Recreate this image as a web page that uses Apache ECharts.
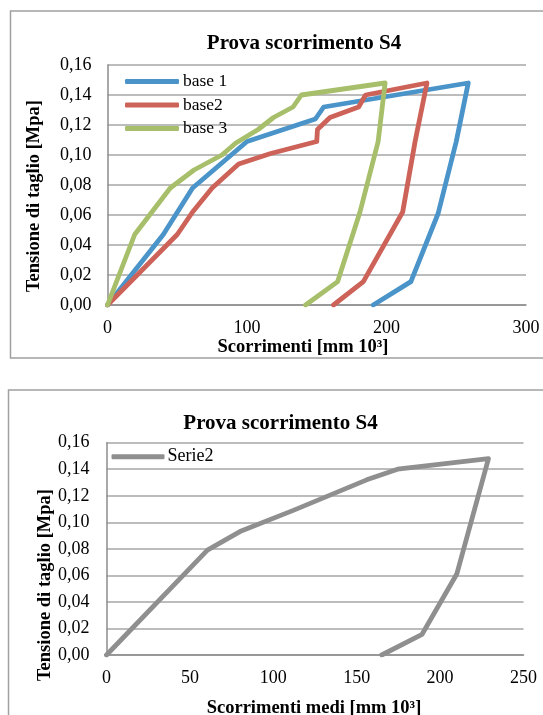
<!DOCTYPE html>
<html><head><meta charset="utf-8">
<script src="https://cdn.jsdelivr.net/npm/echarts@6/dist/echarts.min.js"></script>
<style>html,body{margin:0;padding:0;background:#fff}#c{width:543px;height:715px}</style>
</head><body><div id="c"></div>
<script>
// ---- data ----
const chartTitle = 'Prova scorrimento S4';
const yTitle = 'Tensione di taglio [Mpa]';
const xTitle1 = 'Scorrimenti [mm 10³]';
const xTitle2 = 'Scorrimenti medi [mm 10³]';
const names1 = ['base 1', 'base2', 'base 3'];
const name2 = 'Serie2';

const base1 = [[0,0],[40,0.047],[61,0.078],[100,0.109],[149,0.124],[155,0.132],[258.6,0.148],[250,0.109],[237,0.061],[217.5,0.0156],[190.5,0]];
const base2 = [[0,0],[50,0.047],[61,0.062],[75,0.078],[94,0.094],[117,0.101],[150,0.109],[150.5,0.117],[159.5,0.125],[180,0.132],[185,0.140],[229,0.148],[220.5,0.109],[211.6,0.062],[183.4,0.0156],[162,0]];
const base3 = [[0,0],[19.5,0.047],[45,0.078],[62,0.090],[82,0.100],[92,0.108],[108,0.117],[119,0.125],[133,0.132],[139,0.140],[199,0.148],[194,0.109],[181,0.062],[165,0.0156],[142,0]];
const serie2 = [[0,0],[60.5,0.079],[80,0.093],[112,0.109],[156,0.132],[174.5,0.140],[229,0.148],[210,0.061],[189.2,0.0156],[165,0]];

const xRange1 = [0, 300, 100];
const xRange2 = [0, 250, 50];
const yRange = [0, 0.16, 0.02];

// ---- styles ----
const FONT = '"Liberation Serif","Times New Roman",serif';
const colors1 = ['#4A94C9', '#CD6259', '#A7BF6A'];
const color2 = '#8F8F8F';
const gridColor = '#A6A6A6';
const axisColor = '#8C8C8C';

const chart = echarts.init(document.getElementById('c'), null, {renderer: 'canvas'});

function yAx(gridIndex, margin) {
  return {
    type: 'value', gridIndex, min: yRange[0], max: yRange[1], interval: yRange[2],
    axisLine: {show: true, lineStyle: {color: axisColor, width: 1.5}},
    axisTick: {show: false},
    splitLine: {show: true, lineStyle: {color: gridColor, width: 1.5}},
    axisLabel: {margin, color: '#000', fontFamily: FONT, fontSize: 18,
      formatter: v => v.toFixed(2).replace('.', ',')}
  };
}
function xAx(gridIndex, r) {
  return {
    type: 'value', gridIndex, min: r[0], max: r[1], interval: r[2],
    axisLine: {show: true, onZero: false, lineStyle: {color: axisColor, width: 1.5}},
    axisTick: {show: false},
    splitLine: {show: false},
    axisLabel: {margin: 14, color: '#000', fontFamily: FONT, fontSize: 18}
  };
}
function lineSeries(name, data, color, xi, yi) {
  return {
    type: 'line', name, data, xAxisIndex: xi, yAxisIndex: yi,
    symbol: 'none', smooth: false, color,
    lineStyle: {color, width: 4.8, cap: 'round', join: 'round'},
    animation: false
  };
}

const option = {
  animation: false,
  backgroundColor: '#fff',
  grid: [
    {left: 107.5, top: 65, width: 418.5, height: 240, containLabel: false},
    {left: 106.5, top: 442.7, width: 417, height: 212.3, containLabel: false}
  ],
  xAxis: [xAx(0, xRange1), xAx(1, xRange2)],
  yAxis: [yAx(0, 16), yAx(1, 17)],
  legend: [
    {data: names1, orient: 'vertical', left: 125, top: 72.5, padding: 0, itemWidth: 54, itemHeight: 5,
     itemGap: 5.5, icon: 'roundRect', textStyle: {fontFamily: FONT, fontSize: 17.5, color: '#000', lineHeight: 18, padding: [0,0,0,-1]}},
    {data: [name2], orient: 'vertical', left: 111.5, top: 447.7, padding: 0, itemWidth: 53, itemHeight: 5,
     icon: 'roundRect', textStyle: {fontFamily: FONT, fontSize: 18, color: '#000', lineHeight: 18, padding: [0,0,0,-2]}}
  ],
  series: [
    lineSeries(names1[0], base1, colors1[0], 0, 0),
    lineSeries(names1[1], base2, colors1[1], 0, 0),
    lineSeries(names1[2], base3, colors1[2], 0, 0),
    lineSeries(name2, serie2, color2, 1, 1)
  ],
  graphic: [
    {type: 'rect', z: -10, shape: {x: 10.5, y: 11, width: 560, height: 347}, style: {fill: 'none', stroke: '#A0A0A0', lineWidth: 1.5}},
    {type: 'rect', z: -10, shape: {x: 8.5, y: 390, width: 560, height: 400}, style: {fill: 'none', stroke: '#A0A0A0', lineWidth: 1.5}},
    {type: 'text', x: 304, y: 43.5, style: {text: chartTitle, font: 'bold 21px ' + FONT, fill: '#000', align: 'center', verticalAlign: 'middle', textAlign: 'center', textVerticalAlign: 'middle'}},
    {type: 'text', x: 280.5, y: 423.5, style: {text: chartTitle, font: 'bold 21px ' + FONT, fill: '#000', align: 'center', verticalAlign: 'middle', textAlign: 'center', textVerticalAlign: 'middle'}},
    {type: 'text', x: 303, y: 347, style: {text: xTitle1, font: 'bold 18.5px ' + FONT, fill: '#000', align: 'center', verticalAlign: 'middle', textAlign: 'center', textVerticalAlign: 'middle'}},
    {type: 'text', x: 314, y: 708.5, style: {text: xTitle2, font: 'bold 18.5px ' + FONT, fill: '#000', align: 'center', verticalAlign: 'middle', textAlign: 'center', textVerticalAlign: 'middle'}},
    {type: 'text', x: 34.7, y: 196, rotation: Math.PI / 2, style: {text: yTitle, font: 'bold 18.5px ' + FONT, fill: '#000', align: 'center', verticalAlign: 'middle', textAlign: 'center', textVerticalAlign: 'middle'}},
    {type: 'text', x: 45, y: 585, rotation: Math.PI / 2, style: {text: yTitle, font: 'bold 18.5px ' + FONT, fill: '#000', align: 'center', verticalAlign: 'middle', textAlign: 'center', textVerticalAlign: 'middle'}}
  ]
};
chart.setOption(option);
</script>
</body></html>
